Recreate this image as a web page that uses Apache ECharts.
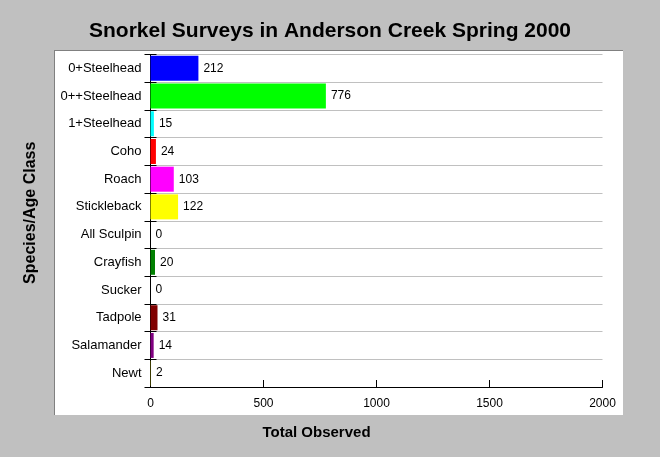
<!DOCTYPE html>
<html>
<head>
<meta charset="utf-8">
<script src="https://cdn.jsdelivr.net/npm/echarts@6/dist/echarts.min.js"></script>
<style>
html,body{margin:0;padding:0;background:#C0C0C0;}
#c{width:660px;height:457px;}
</style>
</head>
<body>
<div id="c"></div>
<script>
const categories = ['0+Steelhead','0++Steelhead','1+Steelhead','Coho','Roach','Stickleback','All Sculpin','Crayfish','Sucker','Tadpole','Salamander','Newt'];
const values = [212, 776, 15, 24, 103, 122, 0, 20, 0, 31, 14, 2];
const barColors = ['#0000FF','#00FF00','#00FFFF','#FF0000','#FF00FF','#FFFF00','#808080','#008000','#808080','#800000','#800080','#808000'];
const xTicks = [0, 500, 1000, 1500, 2000];

const FONT = '"Liberation Sans", Arial, sans-serif';
const chart = echarts.init(document.getElementById('c'), null, {renderer: 'canvas'});
chart.setOption({
  backgroundColor: '#C0C0C0',
  animation: false,
  textStyle: {fontFamily: FONT},
  title: {
    text: 'Snorkel Surveys in Anderson Creek Spring 2000',
    left: 'center', top: 16,
    textStyle: {fontFamily: FONT, fontSize: 21, fontWeight: 'bold', color: '#000'}
  },
  graphic: [
    {type: 'rect', z: -10, shape: {x: 55, y: 50, width: 568, height: 365}, style: {fill: '#FFFFFF'}},
    {type: 'line', z: -9, shape: {x1: 55, y1: 50.5, x2: 623, y2: 50.5}, style: {stroke: '#808080', lineWidth: 1}},
    {type: 'line', z: -9, shape: {x1: 54.5, y1: 50, x2: 54.5, y2: 415}, style: {stroke: '#808080', lineWidth: 1}}
  ],
  grid: {left: 150.5, right: 57.5, top: 54.5, bottom: 70, containLabel: false},
  xAxis: {
    type: 'value', min: xTicks[0], max: xTicks[xTicks.length - 1], interval: 500,
    name: 'Total Observed', nameLocation: 'middle', nameGap: 38,
    nameTextStyle: {fontFamily: FONT, fontSize: 15, fontWeight: 'bold', color: '#000', padding: [0, 120, 0, 0]},
    axisLine: {show: true, lineStyle: {color: '#000', width: 1}},
    axisTick: {show: true, inside: true, length: 7, lineStyle: {color: '#000'}},
    axisLabel: {color: '#000', fontSize: 12, fontFamily: FONT, margin: 11, formatter: v => String(v)},
    splitLine: {show: false}
  },
  yAxis: [{
    type: 'category', data: categories, inverse: true,
    name: 'Species/Age Class', nameLocation: 'middle', nameGap: 112, nameRotate: 90,
    nameTextStyle: {fontFamily: FONT, fontSize: 16, fontWeight: 'bold', color: '#000', padding: [0, 0, 0, 16]},
    axisLine: {show: true, lineStyle: {color: '#000', width: 1}},
    axisTick: {show: true, inside: false, length: 6, lineStyle: {color: '#000'}},
    axisLabel: {color: '#000', fontSize: 13, fontFamily: FONT, margin: 9},
    splitLine: {show: true, lineStyle: {color: '#C0C0C0', width: 1}}
  }, {
    type: 'category', data: categories, inverse: true, position: 'left',
    axisLine: {show: false},
    axisTick: {show: true, inside: true, length: 6, lineStyle: {color: '#000'}},
    axisLabel: {show: false},
    splitLine: {show: false}
  }],
  series: [{
    type: 'bar',
    yAxisIndex: 0,
    barWidth: 25,
    data: values.map((v, i) => ({value: v, itemStyle: {color: barColors[i]}})),
    label: {show: true, position: 'right', distance: 5, color: '#000', fontSize: 12, fontFamily: FONT}
  }]
});
</script>
</body>
</html>
